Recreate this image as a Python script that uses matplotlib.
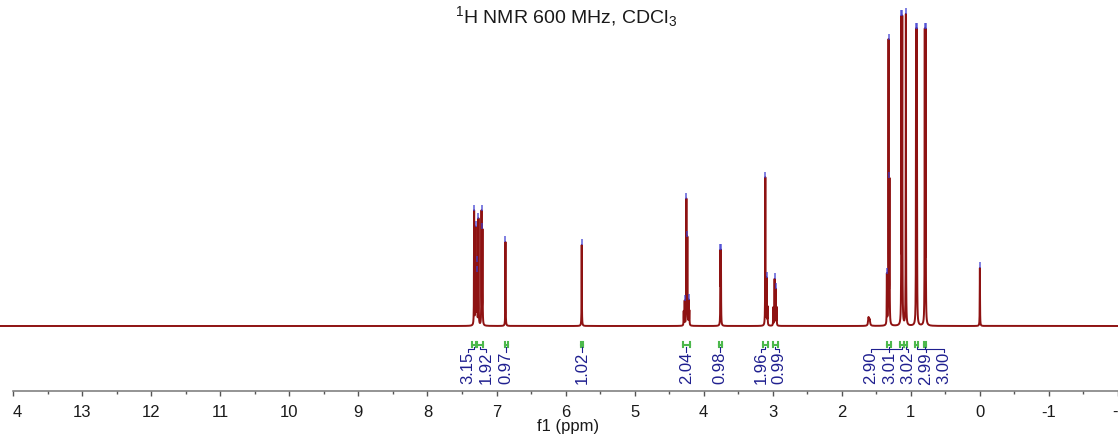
import numpy as np
import matplotlib
matplotlib.use("Agg")
import matplotlib.pyplot as plt

plt.rcParams["font.family"] = ["Liberation Sans", "DejaVu Sans"]
plt.rcParams["mathtext.default"] = "regular"

# peak list: position (ppm) and height (arbitrary units)
peak_ppm = [7.324, 7.304, 7.289, 7.281, 7.261, 7.217, 7.203,
            6.870, 5.766,
            4.289, 4.275, 4.250, 4.236, 4.217, 4.207,
            3.757, 3.750,
            3.107, 3.088, 3.075,
            2.992, 2.973, 2.958, 2.944,
            1.347, 1.323, 1.309,
            1.136, 1.124, 1.072,
            0.924, 0.912, 0.798, 0.786,
            0.000]
peak_height = [114, 96, 58, 48, 106, 113, 94,
               84, 81,
               14, 24, 125, 86, 24, 14,
               70, 70,
               148, 46, 18,
               18, 46, 36, 18,
               50, 283, 141,
               300, 300, 311,
               288, 288, 288, 288,
               58]

# broad water signal
broad_ppm = [1.612, 1.596]
broad_height = [8, 6]

# integrals: label, region start / end (ppm)
integral_labels = ["3.15", "1.92", "0.97", "1.02", "2.04", "0.98", "1.96",
                   "0.99", "2.90", "3.01", "3.02", "2.99", "3.00"]
integral_from = [7.36, 7.285, 6.88, 5.78, 4.30, 3.785, 3.145,
                 3.00, 1.35, 1.15, 1.10, 0.935, 0.81]
integral_to = [7.29, 7.195, 6.835, 5.75, 4.20, 3.74, 3.075,
               2.93, 1.28, 1.105, 1.05, 0.90, 0.775]

# axis ticks as they show in the picture (both end labels are cut by the frame)
tick_values = [14, 13, 12, 11, 10, 9, 8, 7, 6, 5, 4, 3, 2, 1, 0, -1, -2]
tick_labels = ["4", "13", "12", "11", "10", "9", "8", "7", "6", "5", "4",
               "3", "2", "1", "0", "-1", "-"]

line_color = "#8e1212"
int_color = "#1f1f8f"
green = "#4cb84c"

# build the trace from the peak list
x = np.arange(-2.0, 14.2, 0.0002)
y = np.zeros_like(x)
for p, h in zip(peak_ppm, peak_height):
    w = 0.0022
    y += h * w**2 / ((x - p)**2 + w**2)
for p, h in zip(broad_ppm, broad_height):
    w = 0.007
    y += h * w**2 / ((x - p)**2 + w**2)

fig = plt.figure(figsize=(11.18, 4.38), dpi=100)
ax = fig.add_axes([0, 47 / 438, 1, 391 / 438])
ax.plot(x, y, color=line_color, lw=1.4)

# peak pick markers
for p, h in zip(peak_ppm, peak_height):
    if h > 20:
        top = np.interp(p, x, y)
        ax.plot([p], [top + 2.5], marker="|", ms=5, mew=1.3,
                color="#3a3ad0", alpha=0.7)

# integrals
def spread(centers, sep):
    groups = [[c] for c in centers]
    changed = True
    while changed:
        changed = False
        pos = []
        for g in groups:
            m = np.mean(g)
            n = len(g)
            pos.append([m + sep * ((n - 1) / 2 - k) for k in range(n)])
        for i in range(len(groups) - 1):
            if pos[i][-1] - pos[i + 1][0] < sep:
                groups[i] = groups[i] + groups[i + 1]
                del groups[i + 1]
                changed = True
                break
    out = []
    for pp in pos:
        out += pp
    return out

centers = [(a + b) / 2 for a, b in zip(integral_from, integral_to)]
label_x = spread(centers, 0.265)

y_mark = -18.5
for a, b, c, lx, lab in zip(integral_from, integral_to, centers, label_x, integral_labels):
    ax.plot([a, b], [y_mark, y_mark], color=green, lw=1.5)
    ax.plot([a, a], [y_mark - 2.5, y_mark + 2.5], color=green, lw=1.5)
    ax.plot([b, b], [y_mark - 2.5, y_mark + 2.5], color=green, lw=1.5)
    ax.plot([lx, lx, c, c], [-25.5, -23, -23, -21], color=int_color, lw=0.8)
    ax.text(lx, -26, lab, rotation=90, ha="center", va="top",
            fontsize=12, color=int_color)

ax.set_xlim(14.19, -2.0)
ax.set_ylim(-65, 326)
ax.set_yticks([])
for s in ["left", "right", "top"]:
    ax.spines[s].set_visible(False)
ax.spines["bottom"].set_bounds(-2, 14)
ax.spines["bottom"].set_color("#777777")
ax.spines["bottom"].set_linewidth(1.1)
ax.set_xticks(tick_values)
ax.set_xticklabels(tick_labels)
ax.set_xticks([v - 0.5 for v in tick_values[:-1]], minor=True)
ax.tick_params(axis="x", which="major", length=3.5, width=1, color="#555555",
               labelsize=12, pad=6.5, labelcolor="#1a1a1a")
ax.tick_params(axis="x", which="minor", length=2, width=1, color="#555555")
labs = ax.get_xticklabels()
labs[0].set_ha("left")
labs[-1].set_ha("right")

fig.text(0.506, 1 - 17 / 438, r"$^{1}$H NMR 600 MHz, CDCl$_{3}$",
         ha="center", va="center", fontsize=14, color="#1a1a1a")
fig.text(0.508, 1 - 427 / 438, "f1 (ppm)", ha="center", va="center",
         fontsize=12, color="#1a1a1a")

fig.savefig("out.png", dpi=100)
